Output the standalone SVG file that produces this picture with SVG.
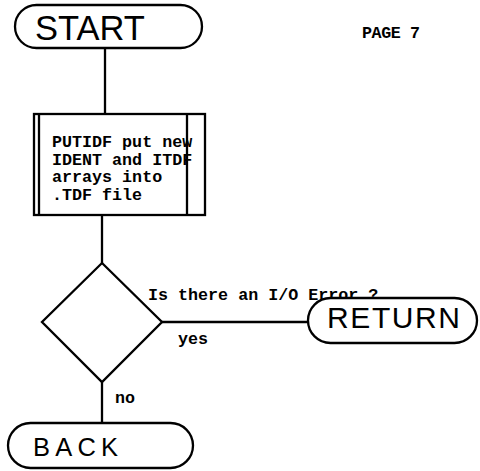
<svg xmlns="http://www.w3.org/2000/svg" width="480" height="471" viewBox="0 0 480 471">
<style>
.shape{fill:#fff;stroke:#000;stroke-width:2.3}
.line{fill:none;stroke:#000;stroke-width:2.3}
.term{font-family:"Liberation Sans",Arial,sans-serif;fill:#000}
.mono{font-family:"Liberation Mono","Courier New",monospace;font-weight:bold;font-size:16.7px;fill:#000}
</style>
<rect width="480" height="471" fill="#fff"/>
<g id="connectors">
<line class="line" x1="105" y1="48" x2="105" y2="114"/>
<line class="line" x1="102" y1="215" x2="102" y2="263"/>
<line class="line" x1="102" y1="382" x2="102" y2="423"/>
<line class="line" x1="162" y1="322" x2="308" y2="322"/>
<text class="mono" x="148" y="300">Is there an I/O Error ?</text>
<text class="mono" x="178" y="344">yes</text>
<text class="mono" x="115" y="403">no</text>
</g>
<g id="start">
<rect class="shape" x="15" y="5" width="187" height="43" rx="21.5"/>
<text class="term" x="35" y="40" font-size="34.5">START</text>
</g>
<g id="page">
<text class="mono" x="362" y="38" font-size="15" textLength="58">PAGE 7</text>
</g>
<g id="puttdf">
<rect class="shape" x="34" y="114" width="171" height="101"/>
<line class="line" x1="39" y1="114" x2="39" y2="215"/>
<line class="line" x1="187" y1="114" x2="187" y2="215"/>
<text class="mono" x="52" y="147">PUTIDF put new</text>
<text class="mono" x="52" y="164.5">IDENT and ITDF</text>
<text class="mono" x="52" y="182">arrays into</text>
<text class="mono" x="52" y="199.5">.TDF file</text>
</g>
<g id="decision">
<polygon class="shape" points="102,263 162,322 102,382 42,322"/>
</g>
<g id="return">
<rect class="shape" x="308" y="298" width="169" height="45" rx="22.5"/>
<text class="term" x="327" y="328" font-size="30" textLength="133">RETURN</text>
</g>
<g id="back">
<rect class="shape" x="8" y="423" width="185" height="45" rx="22.5"/>
<text class="term" x="33" y="456" font-size="25.5" textLength="85">BACK</text>
</g>
</svg>
